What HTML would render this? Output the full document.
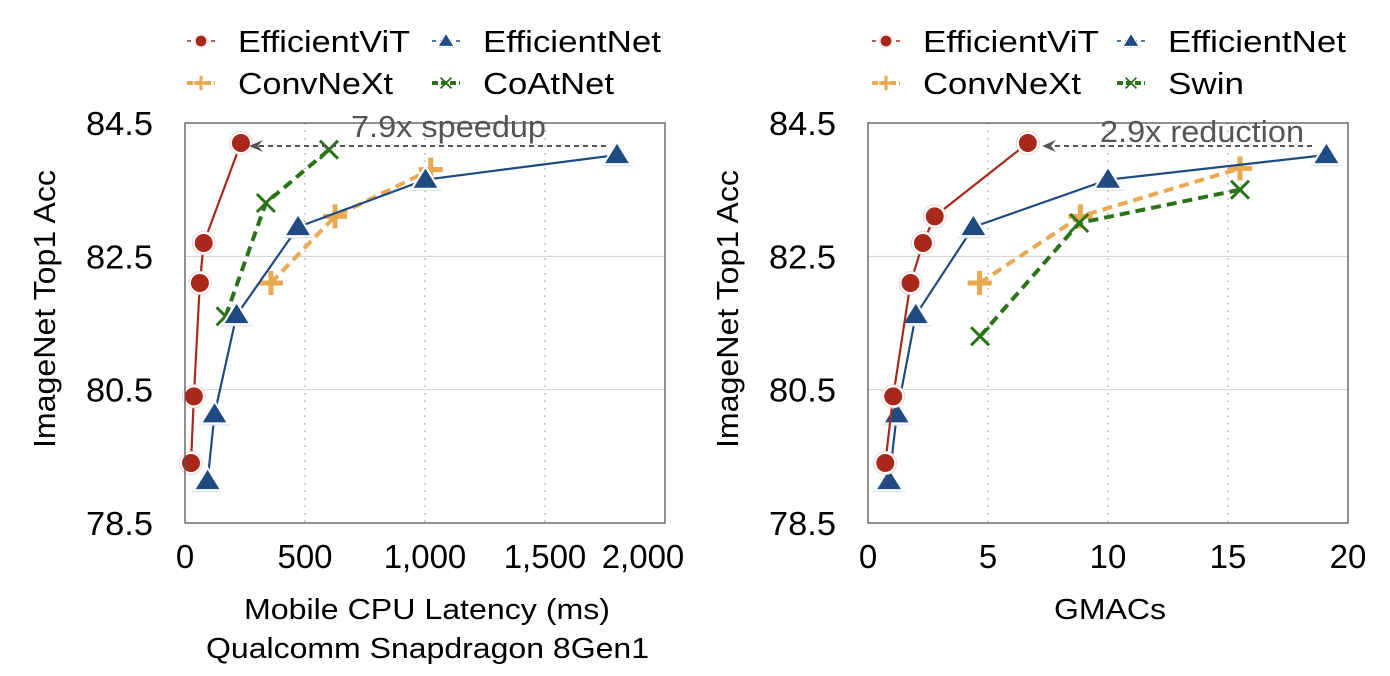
<!DOCTYPE html>
<html><head><meta charset="utf-8">
<style>
html,body{margin:0;padding:0;background:#fff;}
svg{display:block;font-family:"Liberation Sans",Arial,sans-serif;}
</style></head>
<body>
<svg id="chart" width="1390" height="676" viewBox="0 0 1390 676" xmlns="http://www.w3.org/2000/svg"></svg>
<script>
// ---- Data: left panel (latency ms) ----
const latViT = [25, 37, 62, 78, 233];
const accViT = [79.4, 80.4, 82.1, 82.7, 84.2];
const latENet = [94, 123, 215, 471, 1002, 1800];
const accENet = [79.13, 80.13, 81.62, 82.94, 83.65, 84.02];
const latConv = [358, 625, 1024];
const accConv = [82.1, 83.1, 83.8];
const latCoAt = [169, 337, 600];
const accCoAt = [81.6, 83.3, 84.1];
// ---- Data: right panel (GMACs) ----
const macViT = [0.72, 1.05, 1.77, 2.29, 2.78, 6.66];
const accViT2 = [79.4, 80.4, 82.1, 82.7, 83.1, 84.2];
const macENet = [0.88, 1.2, 1.99, 4.39, 10.0, 19.1];
const accENet2 = [79.13, 80.13, 81.62, 82.94, 83.65, 84.02];
const macConv = [4.65, 8.85, 15.5];
const accConv2 = [82.1, 83.1, 83.82];
const macSwin = [4.67, 8.8, 15.5];
const accSwin = [81.3, 83.0, 83.5];
// ticks
const yTicks = [78.5, 80.5, 82.5, 84.5];
const yTickLabels = ["78.5", "80.5", "82.5", "84.5"];
const xTicksL = [0, 500, 1000, 1500, 2000];
const xTickLabelsL = ["0", "500", "1,000", "1,500", "2,000"];
const xTicksR = [0, 5, 10, 15, 20];
const xTickLabelsR = ["0", "5", "10", "15", "20"];

const NS = "http://www.w3.org/2000/svg";
const svg = document.getElementById("chart");
function mk(tag, attrs, parent) {
  const e = document.createElementNS(NS, tag);
  for (const k in attrs) e.setAttribute(k, attrs[k]);
  (parent || svg).appendChild(e);
  return e;
}
const RED = "#a8291c", BLUE = "#1f4b82", ORANGE = "#e9a94f", GREEN = "#2b7319";
const TOP = 123, BOT = 523;
function yScale(v) { return BOT - (v - 78.5) / 6 * (BOT - TOP); }

function marker(g, type, x, y, color, big) {
  const s = big ? 1 : 0.6;
  if (type === "circle") {
    mk("circle", {cx: x, cy: y, r: 12 * s, fill: "#f3d3cf"}, g);
    mk("circle", {cx: x, cy: y, r: 10 * s, fill: color, stroke: "#fff", "stroke-width": 2 * s}, g);
  } else if (type === "tri") {
    const r = 13 * s;
    mk("polygon", {points: `${x},${y - r - 2*s} ${x - r * 1.1 - 2*s},${y + r * 0.75 + 1.5*s} ${x + r * 1.1 + 2*s},${y + r * 0.75 + 1.5*s}`, fill: "#d9e2ee"}, g);
    mk("polygon", {points: `${x},${y - r} ${x - r * 1.05},${y + r * 0.7} ${x + r * 1.05},${y + r * 0.7}`, fill: color, stroke: "#fff", "stroke-width": 2 * s}, g);
  } else if (type === "plus") {
    const r = 12 * s;
    mk("path", {d: `M${x - r},${y}H${x + r}M${x},${y - r}V${y + r}`, stroke: color, "stroke-width": 5 * s, fill: "none"}, g);
  } else if (type === "x") {
    const r = 9 * s;
    mk("path", {d: `M${x - r},${y - r}L${x + r},${y + r}M${x - r},${y + r}L${x + r},${y - r}`, stroke: color, "stroke-width": 3 * s, fill: "none"}, g);
  }
}

function series(g, name, xs, ys, xS, color, type, dashed) {
  const sg = mk("g", {}, g);
  
  
  const pts = xs.map((v, i) => `${xS(v)},${yScale(ys[i])}`).join(" ");
  const line = mk("polyline", {points: pts, fill: "none", stroke: color, "stroke-width": dashed ? 4 : 2.2, "stroke-dasharray": dashed ? "10,6" : "none"}, sg);
  
  
  xs.forEach((v, i) => {
    const mg = mk("g", {}, sg);
    
    
    marker(mg, type, xS(v), yScale(ys[i]), color, true);
  });
}

function panel(opt) {
  const g = mk("g", {});
  
  
  const L = opt.left, R = opt.left + 480;
  const xS = v => L + (v - opt.xmin) / (opt.xmax - opt.xmin) * (R - L);
  [80.5, 82.5].forEach(v => {
    const gl = mk("line", {x1: L, x2: R, y1: yScale(v), y2: yScale(v), stroke: "#cfcfcf", "stroke-width": 1}, g);
    
    
  });
  opt.xticks.slice(1, -1).forEach(v => {
    const gl = mk("line", {x1: xS(v), x2: xS(v), y1: TOP, y2: BOT, stroke: "#b0b0b0", "stroke-width": 1.5, "stroke-dasharray": "1.5,6"}, g);
    
    
  });
  yTicks.forEach((v, i) => {
    const t = mk("text", {x: L - 32, y: yScale(v) + 12, "text-anchor": "end", "font-size": 33, fill: "#000", textLength: 67, lengthAdjust: "spacingAndGlyphs"}, g);
    t.textContent = yTickLabels[i];
    
    
  });
  opt.xticks.forEach((v, i) => {
    const t = mk("text", {x: xS(v) - (opt.lastShift && i === opt.xticks.length - 1 ? opt.lastShift : 0), y: 568, "text-anchor": "middle", "font-size": 33, fill: "#000"}, g);
    t.textContent = opt.xlabels[i];
    
    
  });
  const yt = mk("text", {x: 0, y: 0, "text-anchor": "middle", "font-size": 31, transform: `translate(${L - 130},309) rotate(-90)`, textLength: 278, lengthAdjust: "spacingAndGlyphs"}, g);
  yt.textContent = "ImageNet Top1 Acc";
  
  
  opt.xtitle.forEach((s, i) => {
    const t = mk("text", {x: opt.xtitleX[i], y: 619 + i * 39, "font-size": 29, textLength: opt.xtitleW[i], lengthAdjust: "spacingAndGlyphs"}, g);
    t.textContent = s;
    
    
  });
  opt.series.forEach(s => series(g, s[0], s[1], s[2], xS, s[3], s[4], s[5]));
  const ay = 146;
  const a = mk("g", {}, g);
  
  
  mk("line", {x1: opt.arrow[0], x2: opt.arrow[1] + 8, y1: ay, y2: ay, stroke: "#555", "stroke-width": 2, "stroke-dasharray": "5,4"}, a);
  mk("polygon", {points: `${opt.arrow[1]},${ay} ${opt.arrow[1] + 14},${ay - 6} ${opt.arrow[1] + 9},${ay} ${opt.arrow[1] + 14},${ay + 6}`, fill: "#555"}, a);
  const at = mk("text", {x: opt.note[1], y: opt.note[2], "font-size": 31, fill: "#555", textLength: opt.note[3], lengthAdjust: "spacingAndGlyphs"}, g);
  at.textContent = opt.note[0];
  
  
  const box = mk("rect", {x: L, y: TOP, width: R - L, height: BOT - TOP, fill: "none", stroke: "#555", "stroke-width": 1.3}, g);
  
  
  const lg = mk("g", {}, g);
  
  
  opt.legend.forEach(e => {
    const [label, type, color, mx, ty, tw, dashed] = e;
    const eg = mk("g", {}, lg);
    
    
    mk("line", {x1: mx - 14, x2: mx + 14, y1: ty, y2: ty, stroke: color, "stroke-width": dashed ? 4 : 1.5, "stroke-dasharray": dashed ? "6,3" : "4,4"}, eg);
    marker(eg, type, mx, ty, color, false);
    const t = mk("text", {x: mx + 37, y: ty + 11, "font-size": 31, textLength: tw, lengthAdjust: "spacingAndGlyphs"}, eg);
    t.textContent = label;
  });
}

panel({
  name: "latency-panel", left: 185, xmin: 0, xmax: 2000, lastShift: 22,
  xticks: xTicksL, xlabels: xTickLabelsL,
  xtitle: ["Mobile CPU Latency (ms)", "Qualcomm Snapdragon 8Gen1"], xtitleX: [244, 206], xtitleW: [366, 443],
  series: [
    ["convnext-series", latConv, accConv, ORANGE, "plus", true],
    ["coatnet-series", latCoAt, accCoAt, GREEN, "x", true],
    ["efficientnet-series", latENet, accENet, BLUE, "tri", false],
    ["efficientvit-series", latViT, accViT, RED, "circle", false]
  ],
  arrow: [606, 249], note: ["7.9x speedup", 351, 137, 195],
  legend: [
    ["EfficientViT", "circle", RED, 201, 41, 172, false],
    ["EfficientNet", "tri", BLUE, 446, 41, 178, false],
    ["ConvNeXt", "plus", ORANGE, 201, 83, 155, true],
    ["CoAtNet", "x", GREEN, 446, 83, 131, true]
  ]
});
panel({
  name: "gmacs-panel", left: 868, xmin: 0, xmax: 20,
  xticks: xTicksR, xlabels: xTickLabelsR,
  xtitle: ["GMACs"], xtitleX: [1054], xtitleW: [112],
  series: [
    ["convnext-series", macConv, accConv2, ORANGE, "plus", true],
    ["swin-series", macSwin, accSwin, GREEN, "x", true],
    ["efficientnet-series", macENet, accENet2, BLUE, "tri", false],
    ["efficientvit-series", macViT, accViT2, RED, "circle", false]
  ],
  arrow: [1312, 1042], note: ["2.9x reduction", 1100, 142, 204],
  legend: [
    ["EfficientViT", "circle", RED, 886, 41, 176, false],
    ["EfficientNet", "tri", BLUE, 1131, 41, 178, false],
    ["ConvNeXt", "plus", ORANGE, 886, 83, 158, true],
    ["Swin", "x", GREEN, 1131, 83, 76, true]
  ]
});
</script>
</body></html>
